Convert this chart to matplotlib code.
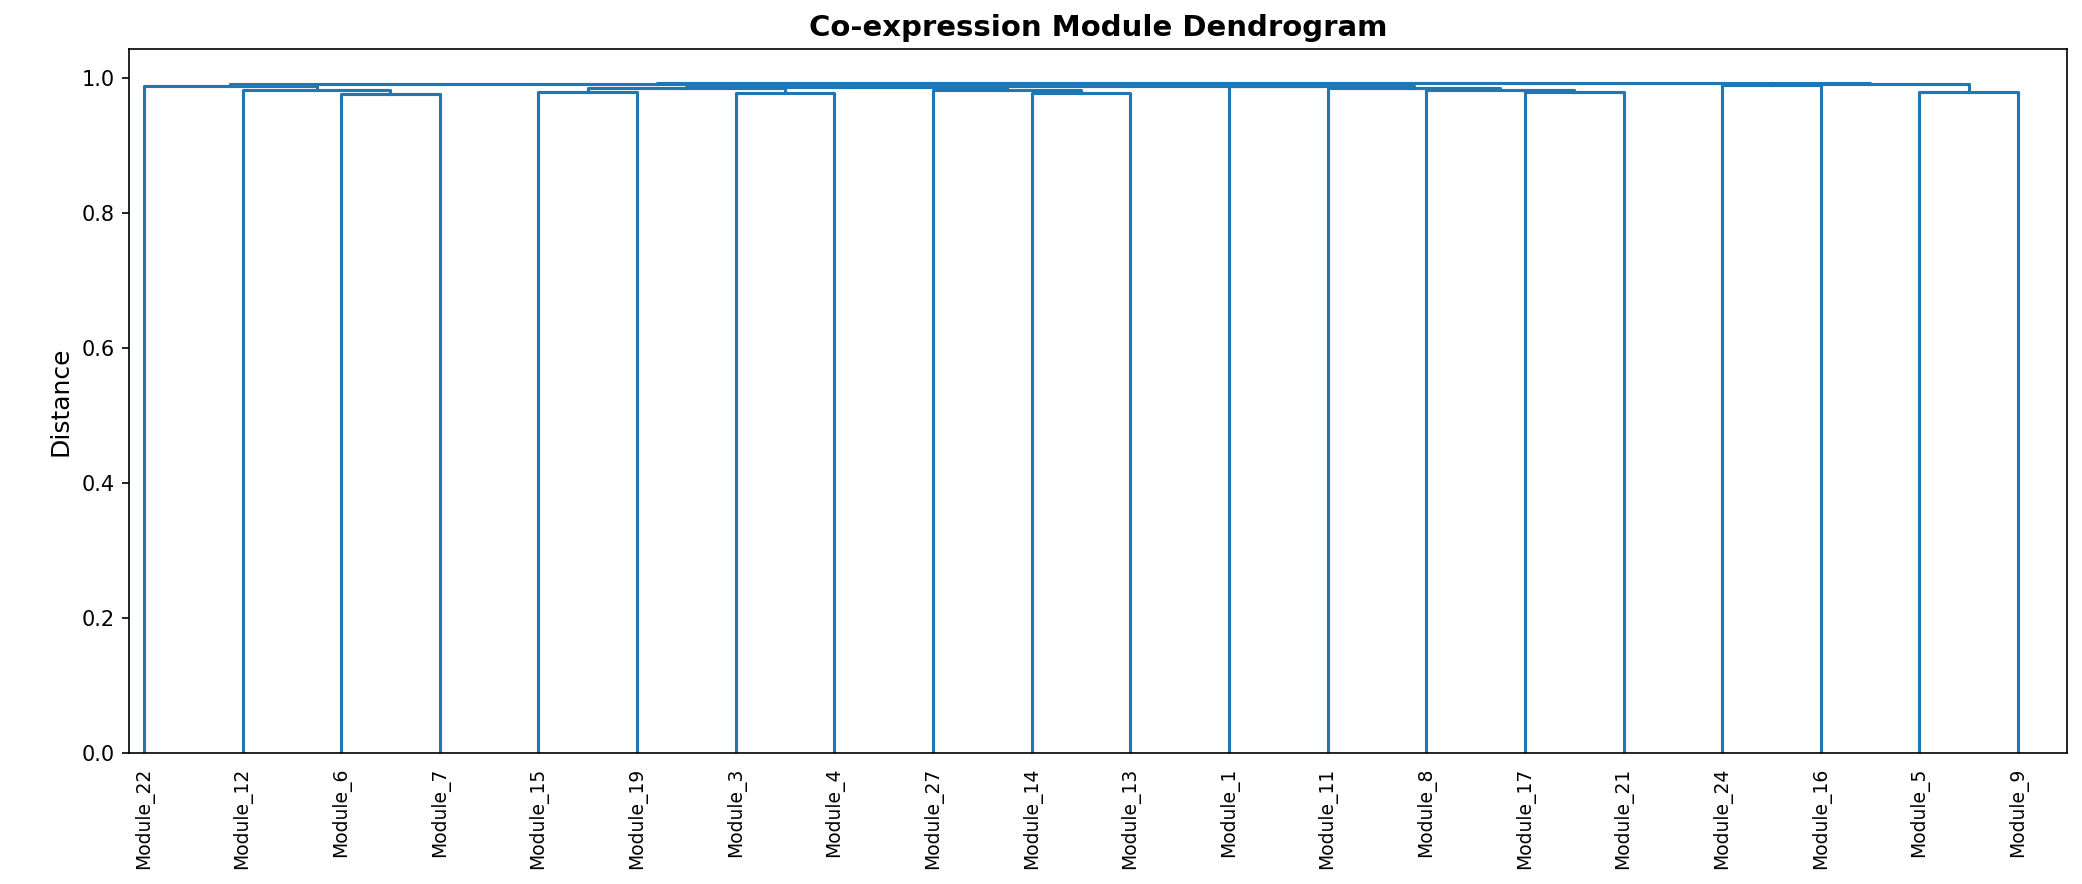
import numpy as np
import matplotlib.pyplot as plt

# leaf order as drawn, left to right
leaves = ['Module_22', 'Module_12', 'Module_6', 'Module_7', 'Module_15', 'Module_19',
          'Module_3', 'Module_4', 'Module_27', 'Module_14', 'Module_13', 'Module_1',
          'Module_11', 'Module_8', 'Module_17', 'Module_21', 'Module_24', 'Module_16',
          'Module_5', 'Module_9']

# merges: left child, right child, distance
# children are leaf names or 'nK' = result of merge K
merge_left = ['Module_6', 'Module_12', 'Module_22', 'Module_15', 'Module_3', 'n3',
              'Module_14', 'Module_27', 'Module_17', 'Module_8', 'Module_11', 'Module_1',
              'n5', 'n12', 'n2', 'Module_24', 'Module_5', 'n15', 'n14']
merge_right = ['Module_7', 'n0', 'n1', 'Module_19', 'Module_4', 'n4',
               'Module_13', 'n6', 'Module_21', 'n8', 'n9', 'n10',
               'n7', 'n11', 'n13', 'Module_16', 'Module_9', 'n16', 'n17']
merge_dist = [0.976, 0.983, 0.988, 0.980, 0.978, 0.985,
              0.978, 0.983, 0.980, 0.983, 0.985, 0.988,
              0.987, 0.989, 0.991, 0.990, 0.980, 0.9915, 0.9935]

# scipy-style coordinates: leaf i at 5 + 10 i
pos = {name: 5 + 10 * i for i, name in enumerate(leaves)}
hgt = {name: 0.0 for name in leaves}

fig, ax = plt.subplots(figsize=(2082 / 150, 884 / 150), dpi=150)
fig.subplots_adjust(left=0.062, right=0.993, top=0.9446, bottom=0.148)

for k, (a, b, d) in enumerate(zip(merge_left, merge_right, merge_dist)):
    xa, xb = pos[a], pos[b]
    ax.plot([xa, xa, xb, xb], [hgt[a], d, d, hgt[b]], color='C0', lw=1.5)
    pos['n%d' % k] = 0.5 * (xa + xb)
    hgt['n%d' % k] = d

ax.set_xticks([pos[n] for n in leaves])
ax.set_xticklabels(leaves, rotation=90, fontsize=9)
for line in ax.get_xticklines():
    line.set_visible(False)
ax.set_xlim(3.5, 200)
ax.set_ylim(0, max(merge_dist) * 1.05)

ax.set_title('Co-expression Module Dendrogram', fontsize=14, fontweight='bold')
ax.set_ylabel('Distance', fontsize=12)

fig.savefig('out.png', dpi=150)
